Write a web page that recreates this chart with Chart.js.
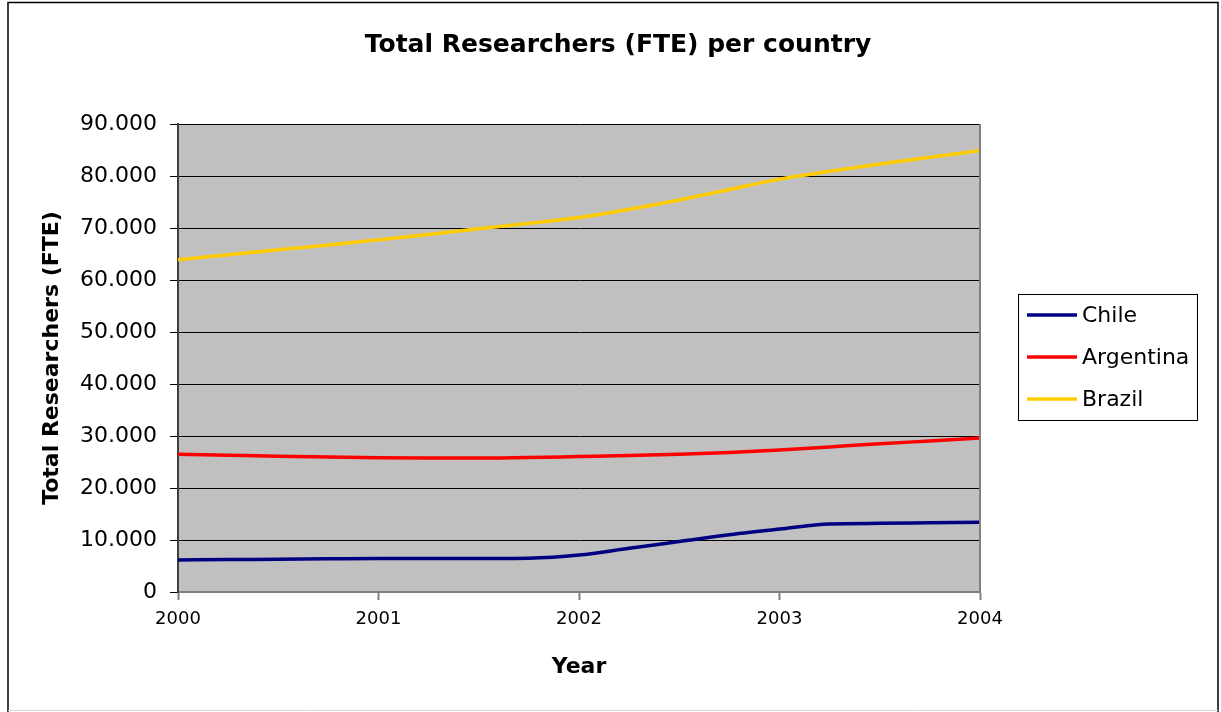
<!DOCTYPE html>
<html>
<head>
<meta charset="utf-8">
<title>Total Researchers (FTE) per country</title>
<script src="https://cdn.jsdelivr.net/npm/chart.js@4/dist/chart.umd.min.js"></script>
<style>
  html, body { margin: 0; padding: 0; background: #ffffff; }
  canvas { display: block; }
</style>
</head>
<body>
<canvas id="chart" width="1221" height="712"></canvas>
<script>
// Quarterly observations, 2000 to 2004
const quarters = [2000, 2000.25, 2000.5, 2000.75, 2001, 2001.25, 2001.5, 2001.75, 2002,
                  2002.25, 2002.5, 2002.75, 2003, 2003.25, 2003.5, 2003.75, 2004];
const yearLabels = ['2000', '2001', '2002', '2003', '2004'];

const chile     = [6150, 6230, 6300, 6380, 6450, 6450, 6450, 6500, 7100,
                   8400, 9700, 11000, 12100, 13100, 13200, 13300, 13400];
const argentina = [26500, 26300, 26100, 25950, 25800, 25750, 25750, 25850, 26050,
                   26250, 26500, 26850, 27300, 27900, 28500, 29050, 29600];
const brazil    = [63900, 64850, 65800, 66750, 67750, 68750, 69850, 70900, 72000,
                   73600, 75400, 77400, 79400, 80900, 82300, 83600, 84900];

const seriesNames = ['Chile', 'Argentina', 'Brazil'];
const seriesColors = ['#000080', '#FF0000', '#FFCC00'];
const seriesValues = [chile, argentina, brazil];

const chartTitle = 'Total Researchers (FTE) per country';
const xTitle = 'Year';
const yTitle = 'Total Researchers (FTE)';

const FONT = "'DejaVu Sans', 'Liberation Sans', Arial, sans-serif";

// Thousands separator as a dot: 90000 -> "90.000"
function formatThousands(v) {
  const s = Math.round(v).toString();
  return s.replace(/\B(?=(\d{3})+(?!\d))/g, '.');
}

const datasets = seriesNames.map((name, i) => ({
  label: name,
  data: quarters.map((q, j) => ({ x: q, y: seriesValues[i][j] })),
  borderColor: seriesColors[i],
  backgroundColor: seriesColors[i],
  borderWidth: 3.5,
  pointRadius: 0,
  pointHoverRadius: 0,
  cubicInterpolationMode: 'monotone',
  fill: false
}));

// Page frame, grey plot background, plot edge, title and boxed legend
const decorations = {
  id: 'decorations',
  beforeDraw(chart) {
    const { ctx, chartArea: a } = chart;
    ctx.save();
    ctx.fillStyle = '#ffffff';
    ctx.fillRect(0, 0, chart.width, chart.height);
    ctx.fillStyle = '#C0C0C0';
    ctx.fillRect(a.left, a.top, a.right - a.left, a.bottom - a.top);
    ctx.restore();
  },
  afterDatasetsDraw(chart) {
    const { ctx, chartArea: a } = chart;
    ctx.save();
    // right edge of the plot
    ctx.strokeStyle = '#808080';
    ctx.lineWidth = 2;
    ctx.beginPath();
    ctx.moveTo(a.right, a.top);
    ctx.lineTo(a.right, a.bottom);
    ctx.stroke();
    ctx.restore();
  },
  afterDraw(chart) {
    const { ctx } = chart;
    ctx.save();
    // outer frame
    ctx.strokeStyle = '#000000';
    ctx.lineWidth = 1.5;
    ctx.beginPath();
    ctx.moveTo(8, 712);
    ctx.lineTo(8, 2.5);
    ctx.lineTo(1218, 2.5);
    ctx.lineTo(1218, 712);
    ctx.stroke();
    ctx.strokeStyle = '#d8d8d8';
    ctx.lineWidth = 1;
    ctx.beginPath();
    ctx.moveTo(8, 710.5);
    ctx.lineTo(1218, 710.5);
    ctx.stroke();

    // title
    ctx.fillStyle = '#000000';
    ctx.font = 'bold 25px ' + FONT;
    ctx.textAlign = 'center';
    ctx.textBaseline = 'middle';
    ctx.fillText(chartTitle, 618, 45);

    // legend box
    const lx = 1018.5, ly = 294.5, lw = 179, lh = 126;
    ctx.fillStyle = '#ffffff';
    ctx.fillRect(lx, ly, lw, lh);
    ctx.strokeStyle = '#000000';
    ctx.lineWidth = 1;
    ctx.strokeRect(lx, ly, lw, lh);
    ctx.font = '22px ' + FONT;
    ctx.textAlign = 'left';
    ctx.textBaseline = 'middle';
    chart.data.datasets.forEach((ds, i) => {
      const y = 315 + 42 * i;
      ctx.strokeStyle = ds.borderColor;
      ctx.lineWidth = 3.5;
      ctx.beginPath();
      ctx.moveTo(1027, y);
      ctx.lineTo(1077, y);
      ctx.stroke();
      ctx.fillStyle = '#000000';
      ctx.fillText(ds.label, 1082, y + 1);
    });
    ctx.restore();
  }
};

new Chart(document.getElementById('chart'), {
  type: 'line',
  data: { datasets },
  plugins: [decorations],
  options: {
    responsive: false,
    animation: false,
    devicePixelRatio: 1,
    layout: { padding: { top: 124, right: 241, bottom: 0, left: 10 } },
    plugins: {
      legend: { display: false },
      title: { display: false },
      tooltip: { enabled: false }
    },
    scales: {
      x: {
        type: 'linear',
        min: 2000,
        max: 2004,
        afterFit(scale) { scale.height = 120; },
        afterBuildTicks(scale) {
          scale.ticks = yearLabels.map(l => ({ value: Number(l) }));
        },
        ticks: {
          stepSize: 1,
          color: '#000000',
          padding: 9,
          maxRotation: 0,
          font: { family: FONT, size: 18 },
          callback: (v, i) => yearLabels[i]
        },
        grid: {
          drawOnChartArea: false,
          drawTicks: true,
          tickLength: 8,
          tickColor: '#808080',
          tickWidth: 2
        },
        border: { display: true, color: '#808080', width: 2 },
        title: {
          display: true,
          text: xTitle,
          color: '#000000',
          font: { family: FONT, size: 22, weight: 'bold' },
          padding: { top: 0, bottom: 32 }
        }
      },
      y: {
        min: 0,
        max: 90000,
        afterFit(scale) { scale.width = 168; },
        ticks: {
          stepSize: 10000,
          color: '#000000',
          padding: 13,
          font: { family: FONT, size: 22 },
          callback: v => formatThousands(v)
        },
        grid: {
          color: '#000000',
          lineWidth: 1,
          drawTicks: true,
          tickLength: 8,
          tickColor: '#000000'
        },
        border: { display: true, color: '#404040', width: 2 },
        title: {
          display: true,
          text: yTitle,
          color: '#000000',
          font: { family: FONT, size: 22, weight: 'bold' },
          padding: { top: 29, bottom: 0 }
        }
      }
    }
  }
});
</script>
</body>
</html>
